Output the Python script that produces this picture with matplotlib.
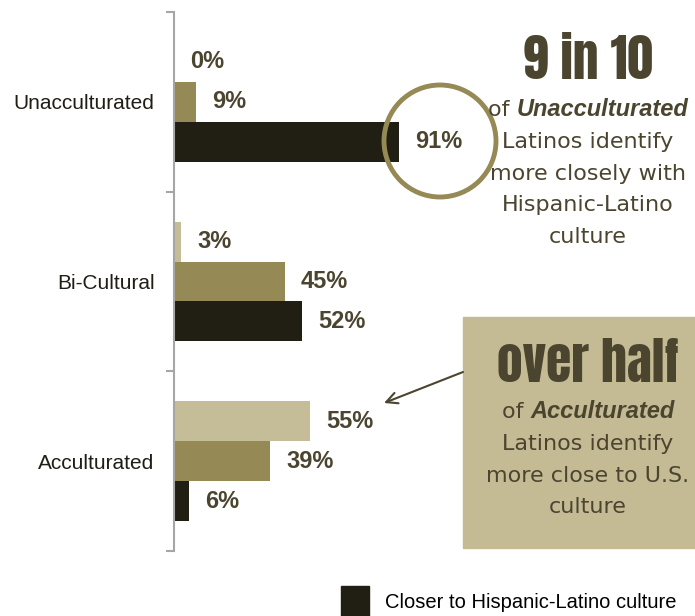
import matplotlib
matplotlib.use("Agg")
import matplotlib.pyplot as plt
from matplotlib.patches import Ellipse, Rectangle, Patch
import numpy as np

# data
groups = ["Unacculturated", "Bi-Cultural", "Acculturated"]
series = ["Closer to U.S. culture", "Equally close", "Closer to Hispanic-Latino culture"]
us_close = [0, 3, 55]
equal = [9, 45, 39]
latino_close = [91, 52, 6]
colors = ["#c5bd97", "#958a55", "#211e13"]

top_head = "9 in 10"
top_lines = ["Latinos identify", "more closely with", "Hispanic-Latino", "culture"]
bot_head = "over half"
bot_lines = ["Latinos identify", "more close to U.S.", "culture"]

W, H = 695, 616
txt = "#4b4530"
sans = ["Liberation Sans", "DejaVu Sans"]

fig = plt.figure(figsize=(W / 100, H / 100), dpi=100)
ax = fig.add_axes([174 / W, 65 / H, 247 / W, 539 / H])

y = np.arange(len(groups))
bh = 0.222
for i, (vals, c) in enumerate(zip([us_close, equal, latino_close], colors)):
    pos = y + (i - 1) * bh
    ax.barh(pos, vals, height=bh, color=c, label=series[i])
    for p, v in zip(pos, vals):
        ax.annotate(f"{v}%", (v, p), xytext=(11.5, 0), textcoords="offset points",
                    va="center", ha="left", fontsize=17, fontweight="bold",
                    color=txt, family=sans, annotation_clip=False)

ax.set_xlim(0, 100)
ax.set_ylim(2.5, -0.5)
ax.set_yticks(y, groups, fontsize=15, family=sans, color="#1f1d14")
ax.set_yticks([-0.5, 0.5, 1.5, 2.5], minor=True)
ax.tick_params(axis="y", which="major", length=0, pad=14)
ax.tick_params(axis="y", which="minor", length=6, width=1.5, color="#a6a6a6")
ax.set_xticks([])
for s in ["top", "right", "bottom"]:
    ax.spines[s].set_visible(False)
ax.spines["left"].set_color("#a6a6a6")
ax.spines["left"].set_linewidth(1.5)

# legend (only the first row is visible)
fig.legend(handles=[Patch(color=colors[2])], labels=[series[2]],
           loc="upper left", bbox_to_anchor=(341 / W, 1 - 586 / H),
           frameon=False, borderpad=0, borderaxespad=0,
           handlelength=1.39, handleheight=2.0, handletextpad=0.8,
           prop={"family": sans, "size": 14.5})

# circle around 91%
fig.add_artist(Ellipse((440 / W, 1 - 141 / H), 112 / W, 112 / H,
                       transform=fig.transFigure, fill=False,
                       ec="#958a55", lw=3.5))

# callout box
fig.add_artist(Rectangle((463 / W, 1 - 548 / H), 240 / W, 231 / H,
                         transform=fig.transFigure, color="#c4bb95", zorder=0))
ax.annotate("", xy=(384, H - 403), xytext=(463, H - 372),
            xycoords="figure pixels", textcoords="figure pixels",
            arrowprops=dict(arrowstyle="->,head_length=0.8,head_width=0.4",
                            color=txt, lw=1.5, shrinkA=0, shrinkB=0),
            annotation_clip=False)

head_kw = dict(ha="center", va="baseline", fontsize=37, color=txt,
               family=["Anton", "DejaVu Sans"])
fig.text(588 / W, 1 - 79 / H, top_head, **head_kw)
fig.text(588 / W, 1 - 382 / H, bot_head, **head_kw)

body_kw = dict(va="baseline", fontsize=16, color=txt, family="DejaVu Sans")
renderer = fig.canvas.get_renderer()


def mixed_line(cx, base, word):
    t1 = fig.text(0, 1 - base / H, "of ", ha="left", **body_kw)
    t2 = fig.text(0, 1 - base / H, word, ha="left", va="baseline", fontsize=17,
                  color=txt, family=sans, fontweight="bold", style="italic")
    w1 = t1.get_window_extent(renderer).width
    w2 = t2.get_window_extent(renderer).width
    x0 = cx - (w1 + w2) / 2
    t1.set_x(x0 / W)
    t2.set_x((x0 + w1) / W)


mixed_line(588, 116, "Unacculturated")
for line, b in zip(top_lines, [148, 180, 211, 243]):
    fig.text(588 / W, 1 - b / H, line, ha="center", **body_kw)

mixed_line(588, 418, "Acculturated")
for line, b in zip(bot_lines, [450, 482, 513]):
    fig.text(588 / W, 1 - b / H, line, ha="center", **body_kw)

fig.savefig("out.png", dpi=100)
